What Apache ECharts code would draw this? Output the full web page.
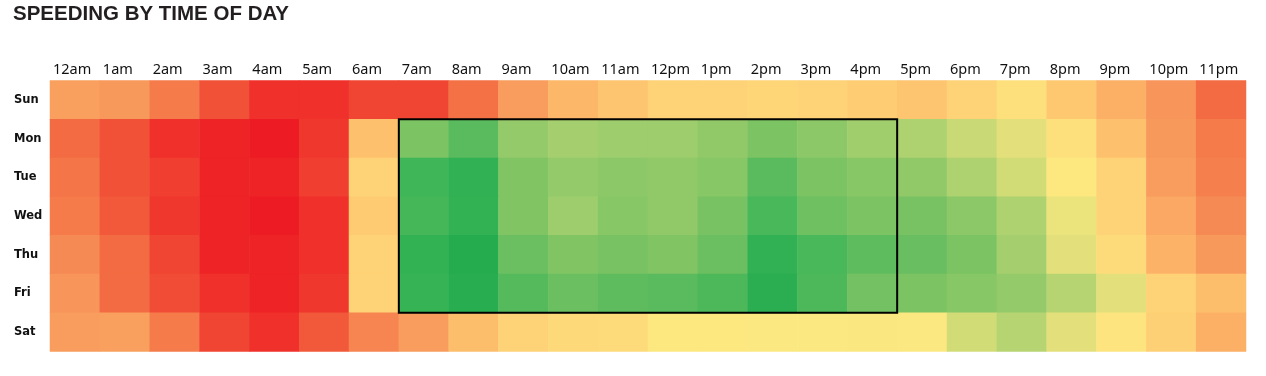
<!DOCTYPE html>
<html>
<head>
<meta charset="utf-8">
<script src="https://cdn.jsdelivr.net/npm/echarts@6/dist/echarts.min.js"></script>
<style>
  html, body { margin: 0; padding: 0; background: #fff; }
  #main { width: 1266px; height: 376px; }
</style>
</head>
<body>
<div id="main"></div>
<script>
var hours = ['12am', '1am', '2am', '3am', '4am', '5am', '6am', '7am', '8am', '9am', '10am', '11am',
    '12pm', '1pm', '2pm', '3pm', '4pm', '5pm', '6pm', '7pm', '8pm', '9pm', '10pm', '11pm'];
var days = ['Sun', 'Mon', 'Tue', 'Wed', 'Thu', 'Fri', 'Sat'];

// speeding index per hour (0 = least, 100 = most), one array per day
var sun = [77, 79, 85, 92, 97, 97, 94, 94, 87, 78, 71, 66, 61, 61, 60, 61, 63, 66, 61, 54, 65, 73, 80, 88];
var mon = [88, 92, 97, 99, 100, 96, 68, 30, 18, 36, 40, 38, 38, 35, 30, 34, 39, 41, 44, 47, 54, 68, 79, 85];
var tue = [86, 92, 95, 99, 99, 95, 61, 10, 5, 31, 36, 34, 35, 33, 18, 30, 33, 35, 41, 45, 50, 61, 78, 84];
var wed = [85, 91, 96, 99, 100, 97, 64, 12, 6, 31, 38, 33, 35, 29, 13, 25, 30, 29, 34, 41, 48, 61, 75, 82];
var thu = [82, 88, 94, 99, 99, 97, 61, 6, 1, 24, 31, 29, 31, 24, 5, 13, 20, 23, 30, 40, 47, 57, 72, 79];
var fri = [80, 88, 93, 97, 99, 96, 61, 7, 2, 17, 24, 20, 18, 14, 3, 14, 27, 30, 33, 36, 42, 47, 61, 69];
var sat = [78, 77, 85, 94, 97, 91, 83, 78, 69, 61, 58, 57, 50.6, 50.6, 49.8, 49.8, 49.7, 49.8, 45, 42, 47, 52, 62, 73];

// highlighted block: weekday working hours
var boxHours = ['7am', '4pm'];
var boxDays = ['Mon', 'Fri'];

var rows = [sun, mon, tue, wed, thu, fri, sat];
var heatData = [];
for (var d = 0; d < rows.length; d++) {
    for (var h = 0; h < hours.length; h++) {
        heatData.push([h, d, rows[d][h]]);
    }
}

var myChart = echarts.init(document.getElementById('main'));

option = {
    backgroundColor: '#fff',
    animation: false,
    title: {
        text: 'SPEEDING BY TIME OF DAY',
        left: 8,
        top: -1,
        textStyle: {
            fontFamily: 'Liberation Sans',
            fontSize: 20.5,
            fontWeight: 'bold',
            color: '#231f20'
        }
    },
    grid: {
        left: 50,
        right: 20,
        top: 80.5,
        bottom: 24.5
    },
    xAxis: [{
        type: 'category',
        data: hours,
        position: 'top',
        show: false
    }, {
        // boundary axis, so the hour labels sit at the left edge of each cell
        type: 'value',
        position: 'top',
        min: 0,
        max: 24,
        interval: 1,
        axisLine: { show: false },
        axisTick: { show: false },
        splitLine: { show: false },
        axisLabel: {
            align: 'left',
            margin: 3,
            padding: [0, 0, 0, 3],
            fontFamily: 'Noto Sans',
            fontSize: 14.5,
            color: '#111',
            showMaxLabel: true,
            formatter: function (v) {
                return hours[v] || '';
            }
        }
    }],
    yAxis: {
        type: 'category',
        data: days,
        inverse: true,
        axisLine: { show: false },
        axisTick: { show: false },
        splitLine: { show: false },
        axisLabel: {
            align: 'left',
            margin: 36,
            fontFamily: 'DejaVu Sans',
            fontWeight: 'bold',
            fontSize: 11.5,
            color: '#111'
        }
    },
    visualMap: {
        show: false,
        seriesIndex: 0,
        dimension: 2,
        min: 0,
        max: 100,
        inRange: {
            color: ['#22ab4e', '#3fb658', '#5fbc5e', '#7cc363', '#a5cf6e', '#fde880',
                '#fed577', '#fdbb6b', '#f7955a', '#f2603c', '#ed1c24']
        }
    },
    series: [{
        name: 'speeding',
        type: 'heatmap',
        data: heatData,
        itemStyle: {
            borderWidth: 0
        },
        emphasis: { disabled: true }
    }, {
        name: 'box',
        type: 'custom',
        z: 5,
        silent: true,
        data: [[hours.indexOf(boxHours[0]), days.indexOf(boxDays[0]),
            hours.indexOf(boxHours[1]), days.indexOf(boxDays[1])]],
        renderItem: function (params, api) {
            var a = api.coord([api.value(0), api.value(1)]);
            var b = api.coord([api.value(2), api.value(3)]);
            var s = api.size([1, 1]);
            var x0 = Math.min(a[0], b[0]) - s[0] / 2;
            var x1 = Math.max(a[0], b[0]) + s[0] / 2;
            var y0 = Math.min(a[1], b[1]) - s[1] / 2;
            var y1 = Math.max(a[1], b[1]) + s[1] / 2;
            return {
                type: 'rect',
                shape: { x: x0, y: y0, width: x1 - x0, height: y1 - y0 },
                style: { fill: 'none', stroke: '#000', lineWidth: 2 }
            };
        }
    }]
};
myChart.setOption(option);
</script>
</body>
</html>
